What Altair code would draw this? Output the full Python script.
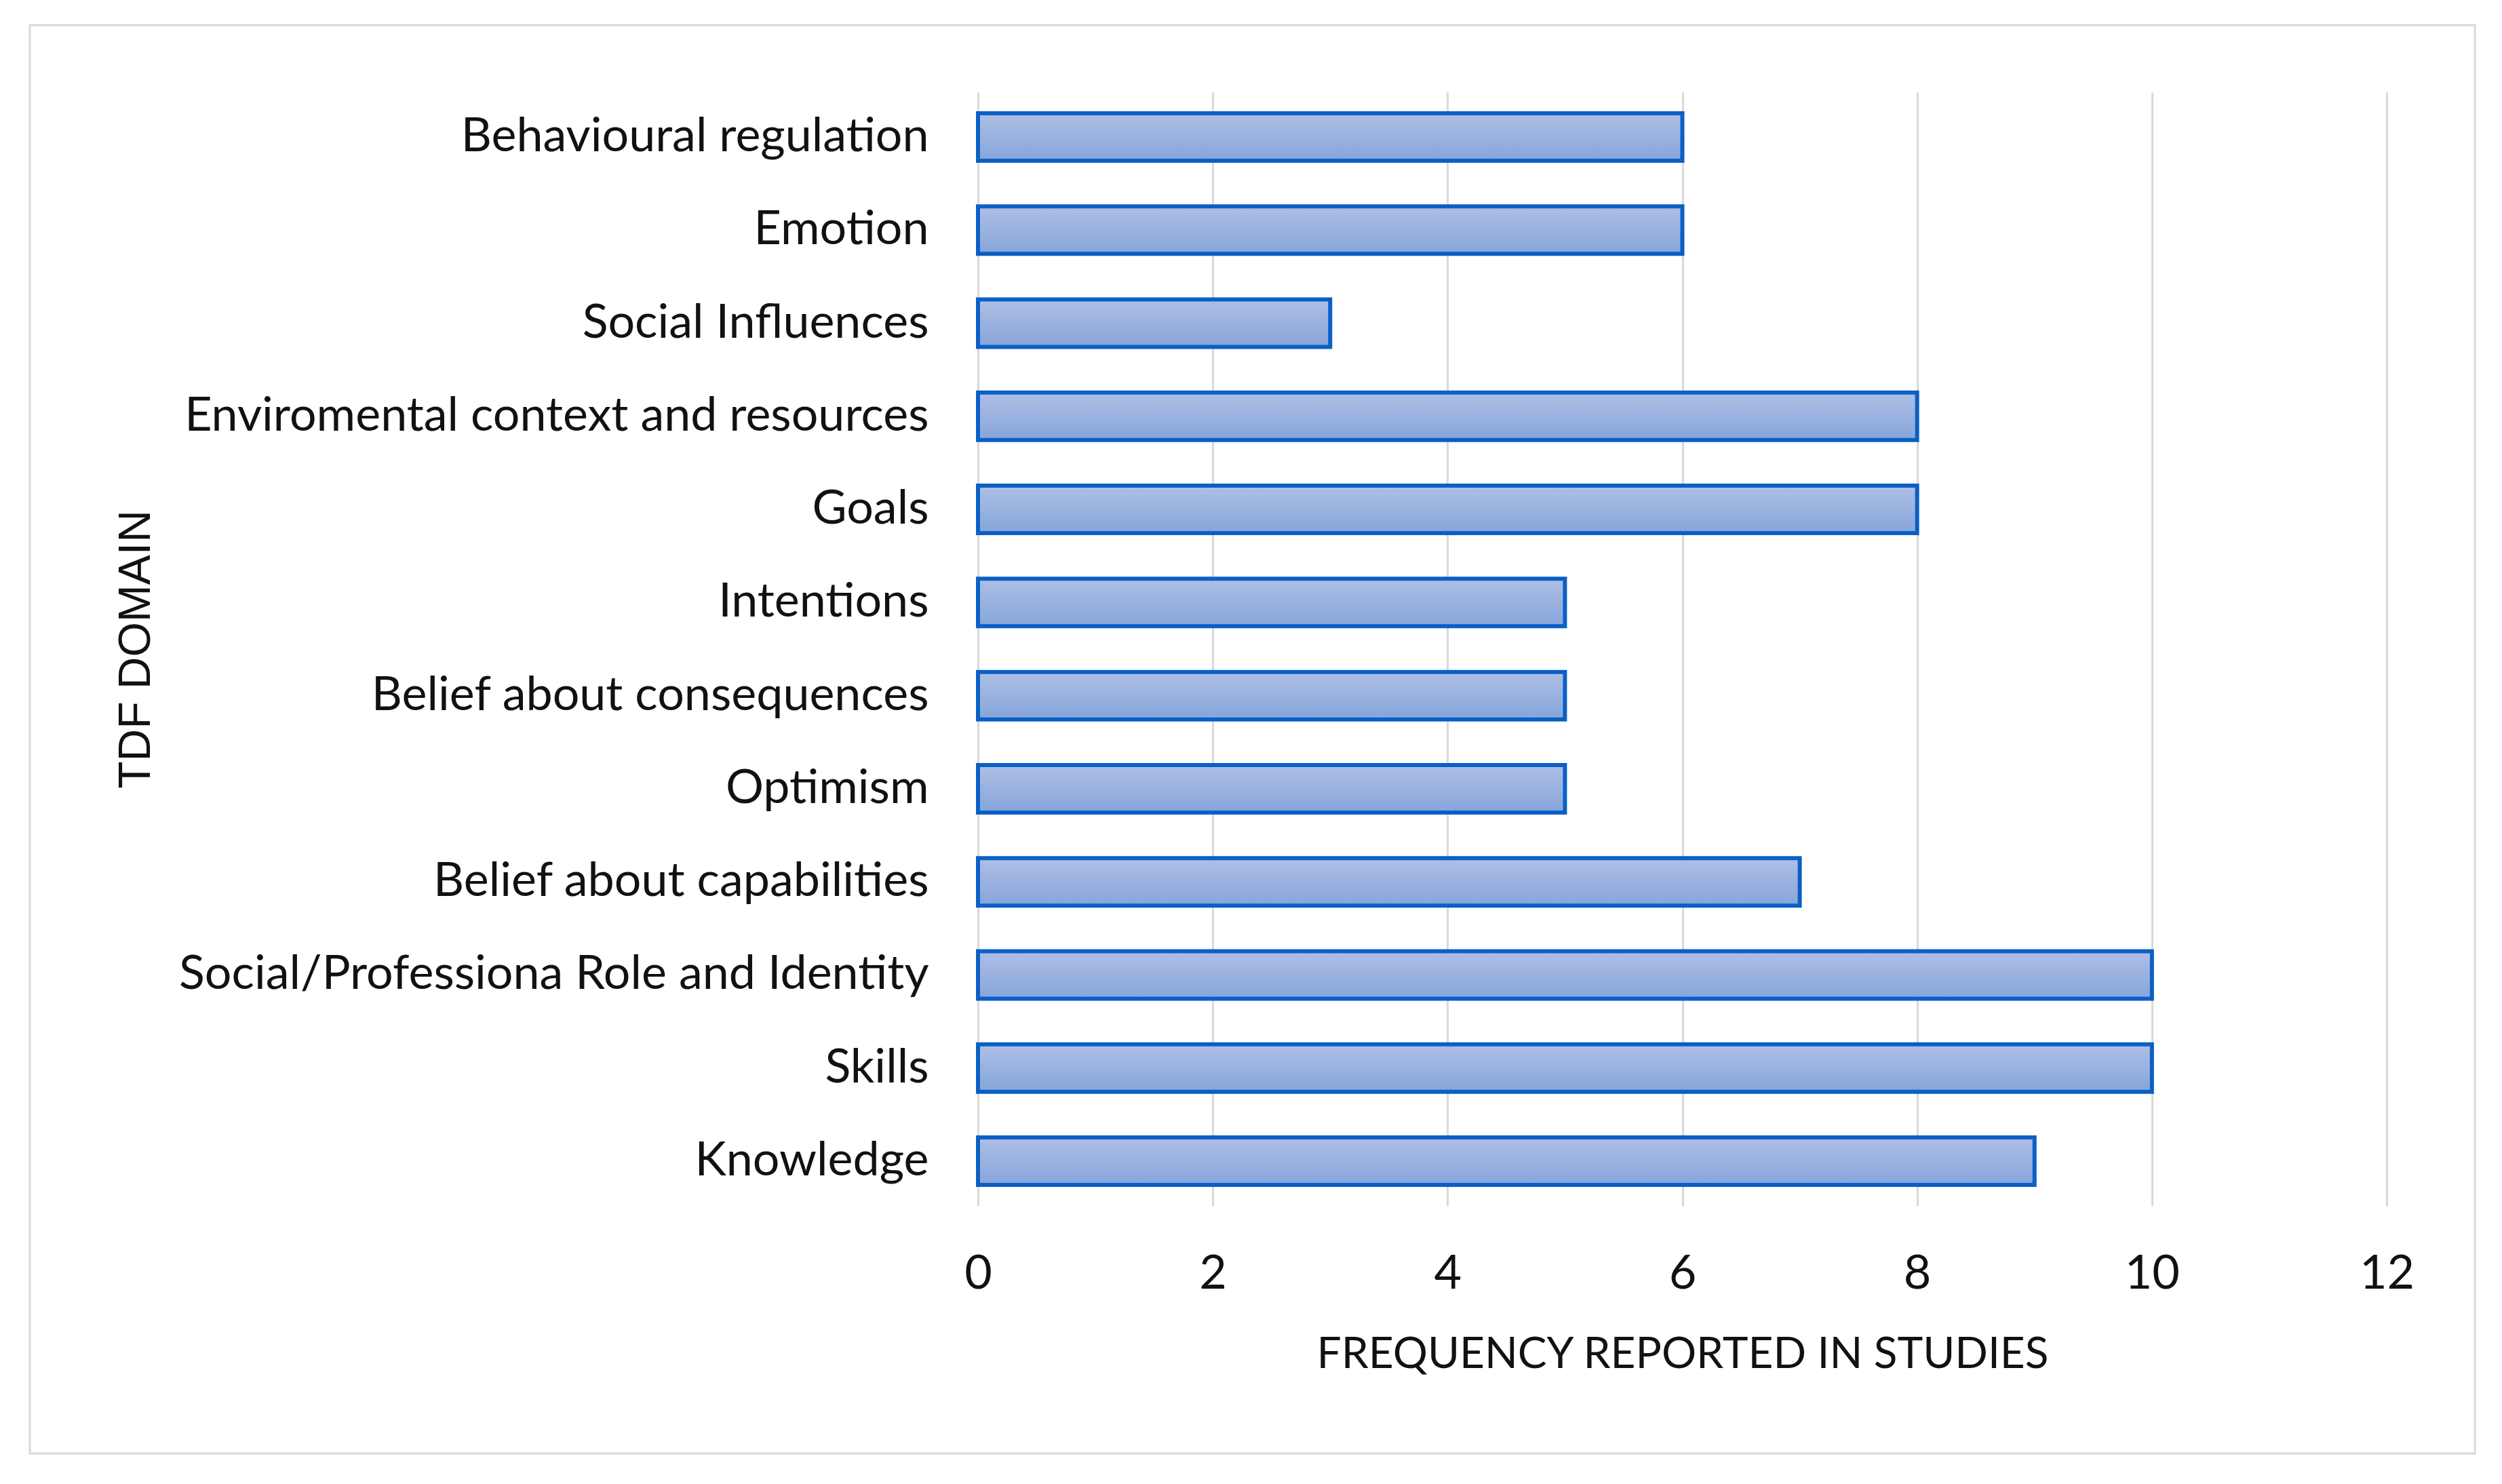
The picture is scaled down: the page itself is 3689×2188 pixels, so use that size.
import altair as alt
import pandas as pd

domains = [
    "Behavioural regulation",
    "Emotion",
    "Social Influences",
    "Enviromental context and resources",
    "Goals",
    "Intentions",
    "Belief about consequences",
    "Optimism",
    "Belief about capabilities",
    "Social/Professiona Role and Identity",
    "Skills",
    "Knowledge",
]
frequency = [6, 6, 3, 8, 8, 5, 5, 5, 7, 10, 10, 9]
x_ticks = [0, 2, 4, 6, 8, 10, 12]

df = pd.DataFrame({"domain": domains, "freq": frequency})

PLOT_W = 2077
PLOT_H = 1642

bar_fill = {
    "gradient": "linear",
    "x1": 0, "y1": 0, "x2": 0, "y2": 1,
    "stops": [
        {"offset": 0, "color": "#aebfe4"},
        {"offset": 1, "color": "#86a5db"},
    ],
}

bars = alt.Chart(df).mark_bar(
    fill=bar_fill, stroke="#0b5fc6", strokeWidth=6
).encode(
    x=alt.X(
        "freq:Q",
        scale=alt.Scale(domain=[0, 12], nice=False, zero=True),
        axis=alt.Axis(
            values=x_ticks,
            title="FREQUENCY REPORTED IN STUDIES",
            grid=True,
            gridColor="#d9d9d9",
            gridWidth=3,
            domain=False,
            ticks=False,
            labelFlush=False,
            labelPadding=66,
            labelFont="Lato",
            labelFontSize=70,
            labelColor="#111111",
            titleFont="Lato",
            titleFontSize=64,
            titleFontWeight="normal",
            titleColor="#111111",
            titlePadding=52,
        ),
    ),
    y=alt.Y(
        "domain:N",
        sort=domains,
        scale=alt.Scale(paddingInner=0.49, paddingOuter=0.226),
        axis=alt.Axis(
            title="TDF DOMAIN",
            grid=False,
            domain=False,
            ticks=False,
            labelPadding=73,
            labelFont="Lato",
            labelFontSize=70,
            labelColor="#111111",
            labelLimit=2000,
            titleFont="Liberation Sans",
            titleFontSize=66,
            titleFontWeight="normal",
            titleColor="#111111",
            titleAngle=270,
            titleAlign="center",
            titleBaseline="middle",
            titleX=-1242,
            titleY=821,
        ),
    ),
)

border = alt.Chart(pd.DataFrame({"k": [0]})).mark_rect(
    fillOpacity=0, stroke="#d9d9d9", strokeWidth=3
).encode(
    x=alt.value(-1398), x2=alt.value(2207),
    y=alt.value(-99), y2=alt.value(2007),
)

chart = alt.layer(border, bars).properties(
    width=PLOT_W,
    height=PLOT_H,
    padding={"left": 34, "top": 27, "right": 0, "bottom": 0},
    background="white",
).configure_view(stroke=None)

chart.save("out.html", embed_options={"renderer": "svg", "actions": False})
